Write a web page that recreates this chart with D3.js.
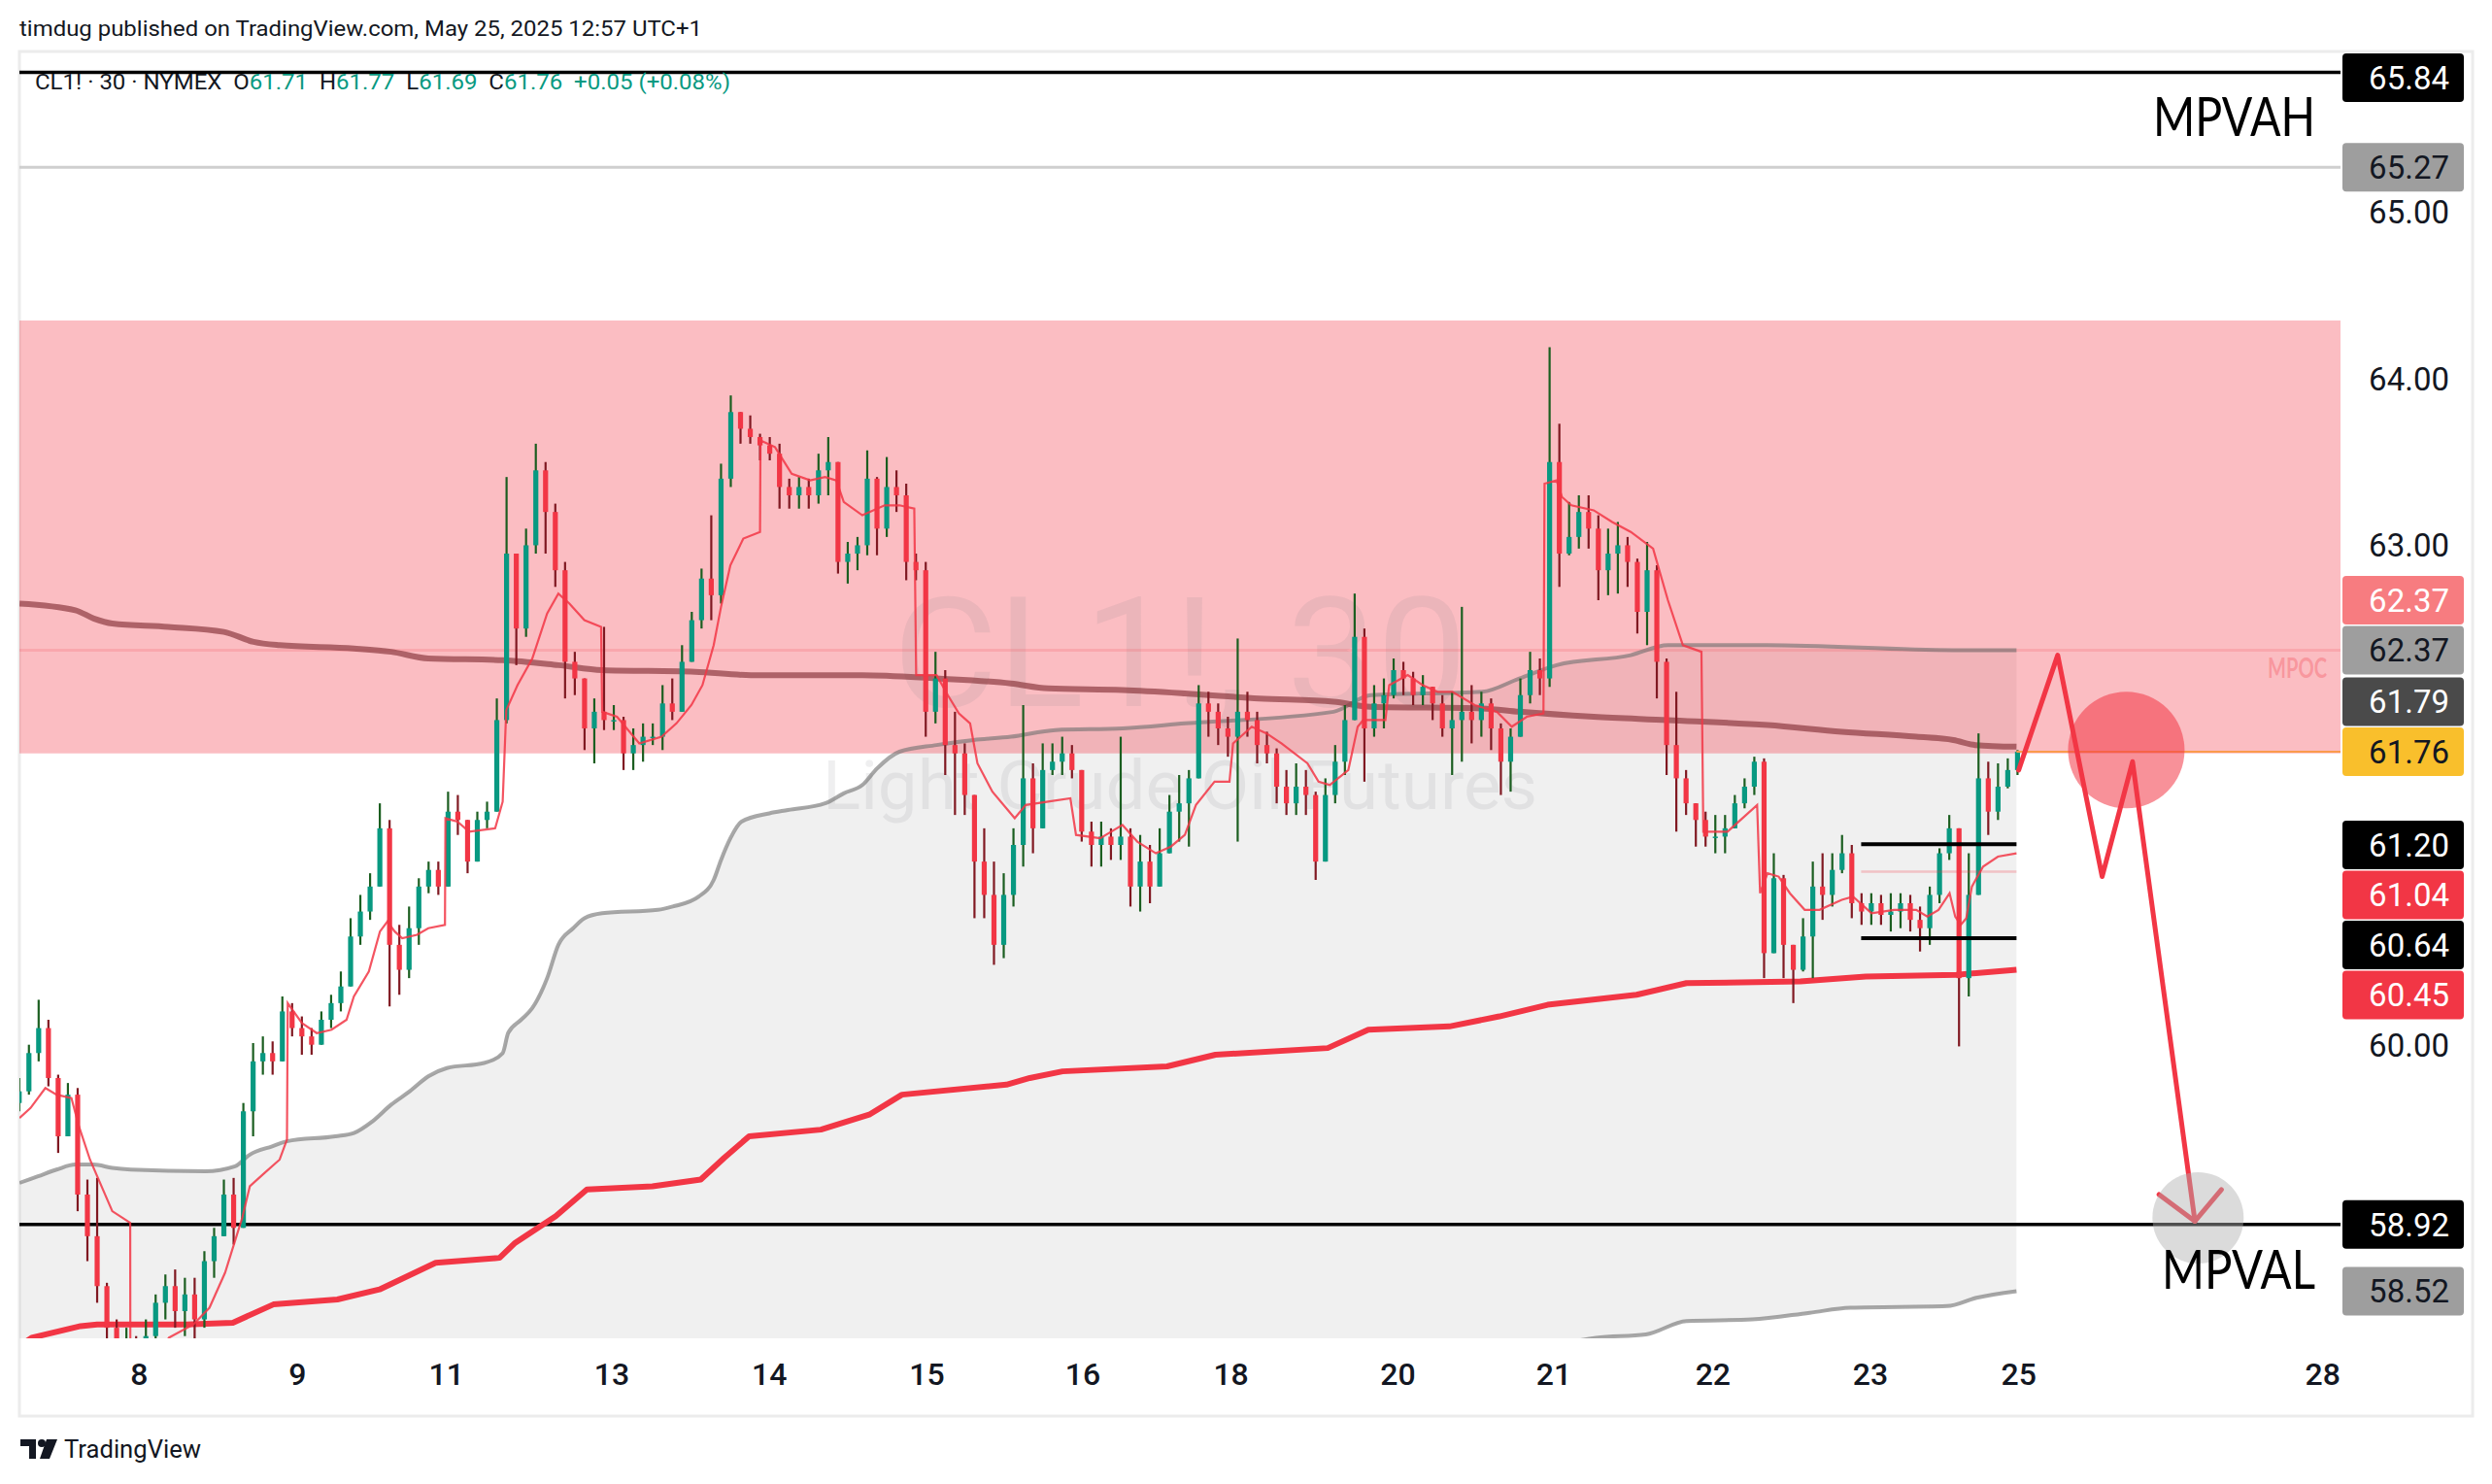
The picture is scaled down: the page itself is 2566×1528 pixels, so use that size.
<!DOCTYPE html>
<html><head><meta charset="utf-8">
<script src="https://cdn.jsdelivr.net/npm/d3@7"></script>
<style>html,body{margin:0;padding:0;background:#fff;} svg{display:block;} text{white-space:pre;}</style>
</head><body>
<svg id="chart" width="2566" height="1528"></svg>
<script>
// ---------------- DATA ----------------
const headerText = "timdug published on TradingView.com, May 25, 2025 12:57 UTC+1";
const symbolText = "CL1! · 30 · NYMEX";
const legendKeys = ["O", "H", "L", "C"];
const legendVals = [61.71, 61.77, 61.69, 61.76];
const legendChange = "+0.05 (+0.08%)";
const watermarkTitle = "CL1!, 30";
const watermarkSub = "Light Crude Oil Futures";

// time axis (day index units, 0 = May 8)
const tickDays   = [0, 1.015, 1.97, 3.03, 4.04, 5.05, 6.05, 7.0, 8.07, 9.07, 10.09, 11.1, 12.05, 14.0];
const tickLabels = ["8","9","11","13","14","15","16","18","20","21","22","23","25","28"];
const yTickValues = [58, 59, 60, 61, 62, 63, 64, 65];

// price bars (one every 1/16 day starting at day -0.77)
const barStart = -0.77;
const barStep = 1 / 16;
const firstOpen = 59.65;
const closes = [
59.72,59.95,60.10,59.80,59.45,59.70,59.10,58.85,58.55,58.30,
58.10,58.15,58.05,58.25,58.45,58.55,58.40,58.50,58.35,58.70,
58.85,59.10,58.90,59.60,59.90,59.95,59.90,60.20,60.10,60.05,
60.00,60.15,60.25,60.35,60.65,60.80,60.95,61.30,60.60,60.45,
60.70,60.95,61.05,60.95,61.40,61.35,61.10,61.35,61.40,61.95,
62.95,62.50,63.00,63.45,63.20,62.85,62.30,62.20,61.90,62.00,
61.95,61.95,61.75,61.80,61.85,61.85,62.05,62.00,62.30,62.55,
62.80,62.70,63.40,63.80,63.70,63.65,63.60,63.55,63.35,63.30,
63.35,63.30,63.45,63.50,62.90,62.95,63.00,63.40,63.10,63.35,
63.30,62.90,62.85,62.00,62.20,61.80,61.75,61.50,61.10,60.90,
60.60,60.90,61.20,61.60,61.30,61.65,61.70,61.75,61.65,61.28,
61.20,61.25,61.20,61.25,60.95,61.10,60.95,61.15,61.40,61.45,
61.60,62.05,62.00,61.90,61.85,62.00,61.95,61.80,61.75,61.55,
61.45,61.55,61.50,61.10,61.50,61.70,61.95,62.45,61.90,62.05,
62.10,62.25,62.20,62.10,62.15,62.05,61.90,61.95,62.00,61.95,
62.05,61.90,61.70,61.85,62.10,62.25,62.20,63.50,62.95,63.05,
63.20,63.10,62.85,62.95,63.00,62.90,62.60,62.85,62.30,61.80,
61.60,61.45,61.35,61.25,61.25,61.30,61.45,61.55,61.70,60.55,
61.00,60.60,60.45,60.65,60.95,60.90,61.05,61.15,60.85,60.80,
60.85,60.78,60.80,60.85,60.75,60.70,60.90,61.15,61.30,60.40,
60.90,61.60,61.40,61.55,61.65,61.76];
const highs = [
59.80,60.00,60.27,60.15,59.82,59.77,59.74,59.19,59.20,58.57,
58.35,58.30,58.25,58.35,58.50,58.62,58.65,58.60,58.60,58.76,
58.90,59.19,59.20,59.65,60.01,60.05,60.02,60.29,60.25,60.17,
60.10,60.20,60.30,60.44,60.76,60.90,61.03,61.45,61.35,60.72,
60.83,61.00,61.10,61.10,61.52,61.50,61.35,61.40,61.46,62.08,
63.41,62.95,63.10,63.61,63.50,63.25,62.90,62.36,62.20,62.08,
62.51,62.04,61.97,61.90,61.93,61.93,62.16,62.20,62.40,62.60,
62.86,63.18,63.49,63.90,63.80,63.78,63.67,63.65,63.61,63.40,
63.41,63.40,63.55,63.65,63.50,63.02,63.05,63.57,63.41,63.53,
63.45,63.37,62.95,62.90,62.36,62.25,62.00,61.81,61.50,61.30,
61.10,61.03,61.30,62.04,61.69,61.81,61.81,61.85,61.80,61.65,
61.34,61.34,61.30,61.85,61.30,61.26,61.20,61.30,61.50,61.62,
61.65,62.16,62.12,62.05,61.97,62.44,62.12,62.00,61.88,61.78,
61.65,61.69,61.65,61.52,61.60,61.80,62.04,62.71,62.50,62.16,
62.20,62.32,62.30,62.24,62.22,62.15,62.10,62.12,62.63,62.16,
62.12,62.08,61.93,61.90,62.20,62.36,62.32,64.19,63.73,63.26,
63.30,63.30,63.18,63.10,63.14,63.05,62.92,63.02,62.88,62.32,
62.12,61.65,61.45,61.40,61.38,61.38,61.50,61.60,61.73,61.72,
61.15,61.02,60.60,60.76,61.10,61.15,61.15,61.26,61.20,60.91,
60.91,60.90,60.91,60.91,60.90,60.83,60.95,61.18,61.38,61.30,
61.15,61.87,61.70,61.69,61.72,61.77];
const lows = [
59.60,59.70,59.90,59.75,59.35,59.45,59.00,58.70,58.45,58.15,
57.95,57.90,57.95,58.00,58.20,58.35,58.30,58.25,58.20,58.30,
58.60,58.85,58.80,58.90,59.45,59.82,59.82,59.90,60.05,59.94,
59.94,60.00,60.10,60.20,60.35,60.60,60.75,60.95,60.23,60.30,
60.40,60.60,60.91,60.90,60.95,61.26,61.03,61.10,61.30,61.40,
61.93,62.28,62.45,62.95,62.95,62.75,62.08,62.10,61.77,61.69,
61.89,61.89,61.65,61.65,61.70,61.80,61.77,61.95,62.00,62.30,
62.50,62.55,62.65,63.35,63.61,63.61,63.51,63.51,63.22,63.22,
63.22,63.22,63.25,63.30,62.83,62.77,62.85,62.94,62.94,63.05,
63.20,62.79,62.79,61.85,61.93,61.62,61.38,61.38,60.76,60.76,
60.48,60.52,60.83,61.07,61.15,61.30,61.62,61.62,61.60,61.22,
61.07,61.07,61.11,61.11,60.83,60.80,60.85,60.95,61.15,61.22,
61.19,61.60,61.85,61.80,61.73,61.22,61.85,61.69,61.69,61.45,
61.38,61.38,61.38,60.99,61.10,61.45,61.62,61.95,61.58,61.85,
61.90,62.08,62.10,62.04,62.04,61.95,61.85,61.62,61.70,61.81,
61.85,61.77,61.50,61.52,61.85,62.05,62.10,62.15,62.75,62.94,
62.98,62.98,62.67,62.70,62.71,62.75,62.47,62.40,62.08,61.62,
61.28,61.38,61.19,61.19,61.15,61.15,61.30,61.42,61.50,60.40,
60.55,60.40,60.25,60.44,60.40,60.75,60.83,61.03,60.76,60.72,
60.72,60.72,60.68,60.70,60.68,60.56,60.60,60.85,61.11,59.99,
60.29,60.90,61.26,61.35,61.54,61.62];

// indicator lines [day, price]
const pocLine = [[-0.768,62.65],[-0.41,62.61],[-0.292,62.56],[-0.173,62.53],[0.185,62.51],[0.542,62.48],[0.733,62.42],[0.90,62.40],[1.376,62.38],[1.615,62.36],[1.853,62.32],[2.33,62.31],[2.687,62.28],[2.968,62.25],[3.563,62.24],[3.921,62.22],[4.636,62.22],[5.112,62.20],[5.589,62.17],[5.827,62.14],[6.304,62.13],[6.704,62.11],[7.18,62.08],[7.657,62.06],[7.895,62.03],[8.61,62.02],[8.848,62.0],[9.325,61.97],[9.801,61.95],[10.44,61.92],[10.916,61.88],[11.393,61.85],[11.631,61.83],[11.774,61.80],[12.036,61.79]];
const upperBand = [[-0.768,59.17],[-0.649,59.21],[-0.53,59.25],[-0.41,59.28],[-0.292,59.28],[-0.173,59.26],[-0.054,59.25],[0.423,59.24],[0.614,59.27],[0.709,59.34],[0.852,59.39],[0.947,59.42],[1.257,59.45],[1.376,59.47],[1.495,59.54],[1.615,59.64],[1.734,59.72],[1.853,59.81],[1.972,59.86],[2.21,59.89],[2.33,59.95],[2.365,60.07],[2.448,60.15],[2.52,60.22],[2.615,60.40],[2.687,60.60],[2.782,60.70],[2.854,60.76],[2.968,60.79],[3.325,60.81],[3.42,60.83],[3.587,60.89],[3.683,60.99],[3.73,61.11],[3.79,61.24],[3.861,61.34],[4.04,61.39],[4.159,61.41],[4.397,61.45],[4.517,61.51],[4.636,61.56],[4.731,61.66],[4.874,61.76],[5.112,61.80],[5.35,61.83],[5.589,61.85],[5.875,61.89],[6.304,61.90],[6.704,61.93],[7.657,62.0],[7.895,62.10],[8.61,62.12],[8.848,62.20],[9.087,62.28],[9.563,62.34],[9.801,62.40],[10.44,62.40],[11.631,62.37],[12.036,62.37]];
const lowerBand = [[-0.768,56.90],[3.0,57.30],[6.0,57.80],[8.0,58.05],[9.0,58.18],[9.34,58.24],[9.66,58.26],[9.92,58.34],[10.34,58.35],[10.71,58.39],[10.97,58.42],[11.59,58.43],[11.78,58.48],[12.036,58.52]];
const anchoredVwap = [[-0.768,58.19],[-0.69,58.24],[-0.376,58.31],[-0.27,58.32],[0.30,58.32],[0.60,58.33],[0.86,58.44],[1.27,58.47],[1.54,58.53],[1.90,58.69],[2.31,58.72],[2.41,58.81],[2.67,58.97],[2.87,59.13],[3.29,59.15],[3.60,59.19],[3.75,59.32],[3.91,59.45],[4.37,59.49],[4.68,59.58],[4.89,59.70],[5.56,59.76],[5.71,59.80],[5.92,59.84],[6.59,59.87],[6.90,59.94],[7.62,59.98],[7.88,60.09],[8.40,60.11],[8.72,60.17],[9.03,60.24],[9.60,60.30],[9.92,60.37],[10.65,60.38],[11.07,60.41],[11.65,60.42],[12.036,60.45]];
const sessionVwap = [[-0.768,59.56],[-0.697,59.62],[-0.602,59.74],[-0.53,59.70],[-0.435,59.68],[-0.387,59.51],[-0.316,59.31],[-0.173,59.00],[-0.058,58.93],[-0.057,57.95],[0.10,58.10],[0.19,58.24],[0.347,58.32],[0.45,58.42],[0.55,58.63],[0.66,58.96],[0.709,59.15],[0.804,59.23],[0.90,59.31],[0.947,59.43],[0.952,60.25],[1.043,60.13],[1.138,60.07],[1.233,60.09],[1.329,60.15],[1.376,60.29],[1.472,60.44],[1.543,60.68],[1.591,60.74],[1.638,60.68],[1.686,60.64],[1.781,60.66],[1.853,60.70],[1.96,60.72],[1.963,61.36],[2.04,61.34],[2.115,61.28],[2.282,61.30],[2.33,61.46],[2.353,62.01],[2.425,62.16],[2.52,62.32],[2.615,62.59],[2.687,62.71],[2.758,62.65],[2.854,62.55],[2.961,62.51],[2.968,62.0],[3.063,61.97],[3.206,61.81],[3.349,61.85],[3.444,61.93],[3.54,62.04],[3.611,62.16],[3.683,62.40],[3.73,62.63],[3.79,62.88],[3.873,63.04],[3.98,63.08],[3.983,63.63],[4.076,63.59],[4.183,63.43],[4.302,63.39],[4.397,63.41],[4.469,63.39],[4.517,63.26],[4.636,63.18],[4.779,63.24],[4.874,63.24],[4.969,63.22],[4.981,62.22],[5.112,62.22],[5.184,62.10],[5.255,61.99],[5.327,61.93],[5.374,61.69],[5.47,61.52],[5.613,61.36],[5.684,61.44],[5.827,61.46],[5.97,61.48],[6.006,61.26],[6.161,61.24],[6.304,61.32],[6.399,61.22],[6.518,61.15],[6.614,61.19],[6.704,61.26],[6.775,61.44],[6.894,61.58],[6.99,61.58],[7.013,61.81],[7.133,61.91],[7.228,61.87],[7.323,61.81],[7.49,61.69],[7.561,61.58],[7.633,61.56],[7.752,61.65],[7.812,61.91],[7.847,61.95],[7.99,61.95],[8.014,62.16],[8.133,62.22],[8.229,62.16],[8.324,62.12],[8.419,62.12],[8.562,62.04],[8.705,62.0],[8.8,61.91],[8.896,61.97],[9.003,61.99],[9.01,63.37],[9.087,63.39],[9.122,63.29],[9.182,63.24],[9.325,63.21],[9.444,63.14],[9.563,63.08],[9.706,62.98],[9.801,62.67],[9.897,62.40],[10.016,62.36],[10.028,61.28],[10.087,61.28],[10.183,61.28],[10.278,61.36],[10.373,61.44],[10.392,60.91],[10.44,61.03],[10.511,61.01],[10.583,60.91],[10.678,60.81],[10.773,60.81],[10.916,60.87],[10.988,60.89],[11.107,60.79],[11.25,60.81],[11.393,60.81],[11.464,60.77],[11.536,60.81],[11.607,60.91],[11.643,60.77],[11.679,60.72],[11.714,60.76],[11.75,60.95],[11.822,61.07],[11.917,61.13],[12.036,61.15]];

// levels and drawings
const supplyZone = [61.75, 64.35];
const mpvah = 65.84, mpval = 58.92, upperLevel = 65.27, mpoc = 62.37;
const rangeLevels = [61.205, 60.64];
const rangeSpan = [11.04, 12.036];
const faintLevel = 61.04;
const lastBarDay = 12.036;
const lastPrice = 61.76;
const projection = [[12.05,61.65],[12.30,62.34],[12.585,61.01],[12.78,61.70],[13.18,58.94]];
const arrowHead = [[12.95,59.10],[13.18,58.94],[13.35,59.13]];
const targetZones = [{day:12.74, price:61.77, kind:"entry"}, {day:13.20, price:58.96, kind:"target"}];

const priceLabels = [
  {value:65.84, kind:"level"},
  {value:65.27, kind:"band"},
  {value:62.37, kind:"band"},
  {value:62.37, kind:"poc"},
  {value:61.79, kind:"vwap"},
  {value:61.76, kind:"last"},
  {value:61.20, kind:"level"},
  {value:61.04, kind:"session"},
  {value:60.64, kind:"level"},
  {value:60.45, kind:"anchored"},
  {value:58.92, kind:"level"},
  {value:58.52, kind:"band"}
];

// ---------------- CHART ----------------
const W = 2566, H = 1528;
const plot = {left:20, right:2410, top:53, bottom:1378};
const x = d3.scaleLinear().domain([0, 14]).range([143.4, 2391.8]);
const y = d3.scaleLinear().domain([60, 65]).range([1075.7, 218.6]);
const FONT = "Roboto, 'Noto Sans', 'DejaVu Sans', sans-serif";
const TXT = "#131722";

const svg = d3.select("#chart");
svg.append("rect").attr("width", W).attr("height", H).attr("fill", "#fff");
svg.append("rect").attr("x", 20).attr("y", 53).attr("width", 2526).attr("height", 1405)
  .attr("fill", "none").attr("stroke", "#ececec").attr("stroke-width", 3);

svg.append("defs").append("clipPath").attr("id", "plotClip").append("rect")
  .attr("x", plot.left).attr("y", plot.top).attr("width", plot.right - plot.left).attr("height", plot.bottom - plot.top);
const g = svg.append("g").attr("clip-path", "url(#plotClip)");

const line = d3.line().x(d => x(d[0])).y(d => y(d[1]));
const smooth = d3.line().x(d => x(d[0])).y(d => y(d[1])).curve(d3.curveMonotoneX);

// gray band fill
const bandPoly = upperBand.concat(lowerBand.slice().reverse());
g.append("path").attr("d", line(bandPoly) + "Z").attr("fill", "rgba(0,0,0,0.058)");

// supply zone
g.append("rect").attr("x", plot.left).attr("width", plot.right - plot.left)
  .attr("y", y(supplyZone[1])).attr("height", y(supplyZone[0]) - y(supplyZone[1]))
  .attr("fill", "rgba(242,54,69,0.33)");

// watermark
const cx = (plot.left + plot.right) / 2;
g.append("text").attr("x", cx).attr("y", 727).attr("text-anchor", "middle")
  .attr("font-family", FONT).attr("font-size", 158).attr("fill", "#787b86").attr("fill-opacity", 0.12)
  .attr("textLength", 591).attr("lengthAdjust", "spacingAndGlyphs").text(watermarkTitle);
g.append("text").attr("x", cx).attr("y", 833).attr("text-anchor", "middle")
  .attr("font-family", FONT).attr("font-size", 70).attr("fill", "#787b86").attr("fill-opacity", 0.12)
  .attr("textLength", 736).attr("lengthAdjust", "spacingAndGlyphs").text(watermarkSub);

// horizontal levels
function hline(v, color, width, x0, x1) {
  g.append("line").attr("x1", x0 === undefined ? plot.left : x(x0)).attr("x2", x1 === undefined ? plot.right : x(x1))
    .attr("y1", y(v)).attr("y2", y(v)).attr("stroke", color).attr("stroke-width", width);
}
hline(upperLevel, "#cfcfcf", 3);
hline(mpoc, "rgba(242,54,69,0.16)", 3);
hline(mpvah, "#000", 3.5);
hline(mpval, "#000", 3.5);

// bands & vwap lines
g.append("path").attr("d", smooth(upperBand)).attr("fill", "none").attr("stroke", "rgba(110,110,110,0.6)").attr("stroke-width", 4);
g.append("path").attr("d", smooth(lowerBand)).attr("fill", "none").attr("stroke", "rgba(110,110,110,0.6)").attr("stroke-width", 4);
g.append("path").attr("d", smooth(pocLine)).attr("fill", "none").attr("stroke", "#8d3c41").attr("stroke-opacity", 0.7).attr("stroke-width", 6);
g.append("path").attr("d", line(anchoredVwap)).attr("fill", "none").attr("stroke", "#f23645").attr("stroke-width", 6).attr("stroke-linejoin", "round");

// candles
const bars = closes.map((c, k) => ({
  day: barStart + k * barStep,
  o: k === 0 ? firstOpen : closes[k - 1],
  h: highs[k], l: lows[k], c: c
}));
const cg = g.append("g");
bars.forEach(b => {
  const up = b.c >= b.o;
  const bx = x(b.day);
  cg.append("line").attr("x1", bx).attr("x2", bx).attr("y1", y(b.h)).attr("y2", y(b.l))
    .attr("stroke", up ? "#1b5e20" : "#801922").attr("stroke-width", 2.2);
  const top = y(Math.max(b.o, b.c)), bot = y(Math.min(b.o, b.c));
  cg.append("rect").attr("x", bx - 2.6).attr("width", 5.2).attr("y", top).attr("height", Math.max(1.5, bot - top))
    .attr("fill", up ? "#089981" : "#f23645");
});

// session vwap thin line
g.append("path").attr("d", line(sessionVwap)).attr("fill", "none").attr("stroke", "#f23645").attr("stroke-opacity", 0.85).attr("stroke-width", 2.2);

// range lines
rangeLevels.forEach(v => hline(v, "#000", 4, rangeSpan[0], rangeSpan[1]));
hline(faintLevel, "rgba(242,54,69,0.25)", 2.5, rangeSpan[0], rangeSpan[1]);
// last price line
hline(lastPrice, "#fb9a4c", 2, lastBarDay);

// projection
const entry = targetZones.find(d => d.kind === "entry");
const target = targetZones.find(d => d.kind === "target");
g.append("circle").attr("cx", x(entry.day)).attr("cy", y(entry.price)).attr("r", 60).attr("fill", "rgba(242,54,69,0.55)");
g.append("path").attr("d", line(projection)).attr("fill", "none").attr("stroke", "#f23645").attr("stroke-width", 5)
  .attr("stroke-linejoin", "round").attr("stroke-linecap", "round");
g.append("path").attr("d", line(arrowHead)).attr("fill", "none").attr("stroke", "#f23645").attr("stroke-width", 5)
  .attr("stroke-linejoin", "round").attr("stroke-linecap", "round");
g.append("circle").attr("cx", x(target.day)).attr("cy", y(target.price)).attr("r", 47).attr("fill", "rgba(175,175,175,0.45)");

// drawing texts
g.append("text").attr("x", 2384).attr("y", 140).attr("text-anchor", "end").attr("font-family", "Lato, sans-serif")
  .attr("font-size", 57).attr("fill", "#000").attr("textLength", 167).attr("lengthAdjust", "spacingAndGlyphs").text("MPVAH");
g.append("text").attr("x", 2384).attr("y", 1327).attr("text-anchor", "end").attr("font-family", "Lato, sans-serif")
  .attr("font-size", 57).attr("fill", "#000").attr("textLength", 158).attr("lengthAdjust", "spacingAndGlyphs").text("MPVAL");
g.append("text").attr("x", 2396).attr("y", 698).attr("text-anchor", "end").attr("font-family", "Lato, sans-serif")
  .attr("font-weight", 700).attr("font-size", 28).attr("fill", "rgba(242,54,69,0.3)").attr("textLength", 61)
  .attr("lengthAdjust", "spacingAndGlyphs").text("MPOC");

// ---------------- PRICE AXIS LABELS ----------------
const labelStyle = {
  level:    {bg:"#000000", fg:"#ffffff"},
  band:     {bg:"#9e9e9e", fg:TXT},
  poc:      {bg:"#f77c80", fg:"#ffffff"},
  vwap:     {bg:"#4a4a4a", fg:"#ffffff"},
  last:     {bg:"#f9bf2c", fg:TXT},
  session:  {bg:"#f23645", fg:"#ffffff"},
  anchored: {bg:"#f23645", fg:"#ffffff"}
};
const boxH = 50, gap = 51.5;
const anchor = priceLabels.find(d => d.kind === "last");
anchor.cy = y(anchor.value);
const above = priceLabels.filter(d => d !== anchor && y(d.value) <= anchor.cy)
  .sort((a, b) => y(b.value) - y(a.value));
let prev = anchor.cy;
above.forEach(d => { d.cy = Math.min(y(d.value), prev - gap); prev = d.cy; });
let minY = plot.top + boxH / 2 + 2;
above.slice().reverse().forEach(d => { d.cy = Math.max(d.cy, minY); minY = d.cy + gap; });
const below = priceLabels.filter(d => d !== anchor && y(d.value) > anchor.cy)
  .sort((a, b) => y(a.value) - y(b.value));
prev = anchor.cy;
below.forEach(d => { d.cy = Math.max(y(d.value), prev + gap); prev = d.cy; });

const axisG = svg.append("g");
yTickValues.filter(v => y(v) > plot.top + 20 && y(v) < plot.bottom - 20)
  .filter(v => priceLabels.every(l => Math.abs(l.cy - y(v)) > 40))
  .forEach(v => {
    axisG.append("text").attr("x", 2522).attr("y", y(v)).attr("dy", "0.36em").attr("text-anchor", "end")
      .attr("font-family", FONT).attr("font-size", 33).attr("fill", TXT).text(v.toFixed(2));
  });
priceLabels.forEach(l => {
  const s = labelStyle[l.kind];
  axisG.append("rect").attr("x", 2412).attr("y", l.cy - boxH / 2).attr("width", 125).attr("height", boxH)
    .attr("rx", 4).attr("fill", s.bg);
  axisG.append("text").attr("x", 2522).attr("y", l.cy).attr("dy", "0.36em").attr("text-anchor", "end")
    .attr("font-family", FONT).attr("font-size", 33).attr("fill", s.fg).text(l.value.toFixed(2));
});

// ---------------- TIME AXIS ----------------
tickDays.forEach((d, i) => {
  svg.append("text").attr("x", x(d)).attr("y", 1414).attr("dy", "0.36em").attr("text-anchor", "middle")
    .attr("font-family", FONT).attr("font-weight", 500).attr("font-size", 32).attr("fill", TXT).text(tickLabels[i]);
});

// ---------------- HEADER / LEGEND ----------------
svg.append("text").attr("x", 20).attr("y", 37).attr("font-family", FONT).attr("font-size", 22).attr("fill", TXT)
  .attr("textLength", 703).attr("lengthAdjust", "spacingAndGlyphs").text(headerText);
const legend = svg.append("text").attr("x", 36).attr("y", 92).attr("font-family", FONT).attr("font-size", 22)
  .attr("textLength", 716).attr("lengthAdjust", "spacingAndGlyphs");
legend.append("tspan").attr("fill", TXT).text(symbolText + "  ");
legendKeys.forEach((k, i) => {
  legend.append("tspan").attr("fill", TXT).text(k);
  legend.append("tspan").attr("fill", "#089981").text(legendVals[i].toFixed(2) + "  ");
});
legend.append("tspan").attr("fill", "#089981").text(legendChange);

// ---------------- FOOTER LOGO ----------------
const logo = svg.append("g").attr("fill", TXT);
logo.append("path").attr("d", "M21 1482 H37 V1502 H30 V1489 H21 Z");
logo.append("circle").attr("cx", 43).attr("cy", 1486).attr("r", 4);
logo.append("path").attr("d", "M48 1482 H59 L51 1502 H41 Z");
svg.append("text").attr("x", 66).attr("y", 1501).attr("font-family", FONT).attr("font-size", 25).attr("fill", TXT)
  .attr("textLength", 141).attr("lengthAdjust", "spacingAndGlyphs").text("TradingView");
</script>
</body></html>
